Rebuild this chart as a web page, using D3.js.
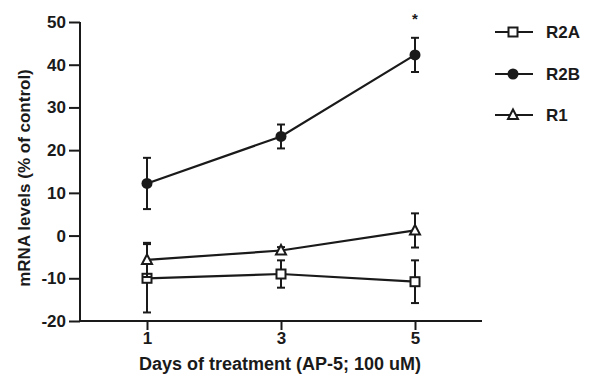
<!DOCTYPE html>
<html>
<head>
<meta charset="utf-8">
<script src="https://cdn.jsdelivr.net/npm/d3@7"></script>
<style>
html,body{margin:0;padding:0;background:#fff;}
svg{display:block;}
text{font-family:"Liberation Sans",Arial,Helvetica,sans-serif;fill:#1a1a1a;}
</style>
</head>
<body>
<svg id="chart" width="589" height="376"></svg>
<script>
const days = [1, 3, 5];
const seriesNames = ["R2A", "R2B", "R1"];
const r2aMean = [-10, -9, -10.8];
const r2aErr = [8, 3.2, 5];
const r2bMean = [12.2, 23.2, 42.3];
const r2bErr = [6, 2.8, 4];
const r1Mean = [-5.7, -3.5, 1.2];
const r1Err = [4, 0.8, 4];
const yTicks = [-20, -10, 0, 10, 20, 30, 40, 50];
const xTicks = [1, 3, 5];
const markers = ["square", "circle", "triangle"];

const series = [
  {name: seriesNames[0], mean: r2aMean, err: r2aErr, marker: markers[0]},
  {name: seriesNames[1], mean: r2bMean, err: r2bErr, marker: markers[1]},
  {name: seriesNames[2], mean: r1Mean, err: r1Err, marker: markers[2]}
];

const svg = d3.select("#chart");
const ink = "#1a1a1a";
const x = d3.scaleLinear().domain([0, 6]).range([80, 482]);
const y = d3.scaleLinear().domain([-20, 50]).range([321, 22]);
const fmt = d => String(d); // plain hyphen-minus, as in the original

// axes
const yAxis = svg.append("g").attr("transform", "translate(80,0)")
  .call(d3.axisLeft(y).tickValues(yTicks).tickSize(11).tickPadding(3).tickFormat(fmt));
const xAxis = svg.append("g").attr("transform", "translate(0,321)")
  .call(d3.axisBottom(x).tickValues(xTicks).tickSize(9).tickPadding(2).tickFormat(fmt));
[yAxis, xAxis].forEach(a => {
  a.select(".domain").attr("stroke", ink).attr("stroke-width", 2);
  a.selectAll(".tick line").attr("stroke", ink).attr("stroke-width", 2);
  a.selectAll(".tick text").attr("fill", ink).style("font-size", "17px").style("font-weight", "bold")
    .style("font-family", "'Liberation Sans', Arial, sans-serif");
});
yAxis.select(".domain").attr("d", `M0,${y(50)}V${y(-20)}`);
xAxis.select(".domain").attr("d", `M${x(0)},0H${x(6)}`);

// axis labels
svg.append("text").attr("x", 280).attr("y", 370).attr("text-anchor", "middle")
  .style("font-size", "18px").style("font-weight", "bold").text("Days of treatment (AP-5; 100 uM)");
svg.append("text").attr("transform", "translate(30,178) rotate(-90)").attr("text-anchor", "middle")
  .style("font-size", "17px").style("font-weight", "bold").text("mRNA levels (% of control)");

function drawMarker(g, type, cx, cy) {
  if (type === "square") {
    g.append("rect").attr("x", cx - 4.5).attr("y", cy - 4.5).attr("width", 9).attr("height", 9)
      .attr("fill", "#fff").attr("stroke", ink).attr("stroke-width", 2);
  } else if (type === "circle") {
    g.append("circle").attr("cx", cx).attr("cy", cy).attr("r", 5.5).attr("fill", ink);
  } else {
    g.append("path").attr("d", `M${cx},${cy - 5.5}L${cx + 5},${cy + 4}L${cx - 5},${cy + 4}Z`)
      .attr("fill", "#fff").attr("stroke", ink).attr("stroke-width", 2);
  }
}

const line = d3.line().x(d => x(d[0])).y(d => y(d[1]));
series.forEach(s => {
  const g = svg.append("g");
  const pts = days.map((d, i) => [d, s.mean[i]]);
  g.append("path").attr("d", line(pts)).attr("fill", "none").attr("stroke", ink).attr("stroke-width", 2.2);
  days.forEach((d, i) => {
    const cx = x(d), top = y(s.mean[i] + s.err[i]), bot = y(s.mean[i] - s.err[i]);
    g.append("line").attr("x1", cx).attr("x2", cx).attr("y1", top).attr("y2", bot).attr("stroke", ink).attr("stroke-width", 2);
    g.append("line").attr("x1", cx - 4).attr("x2", cx + 4).attr("y1", top).attr("y2", top).attr("stroke", ink).attr("stroke-width", 2);
    g.append("line").attr("x1", cx - 4).attr("x2", cx + 4).attr("y1", bot).attr("y2", bot).attr("stroke", ink).attr("stroke-width", 2);
  });
  days.forEach((d, i) => drawMarker(g, s.marker, x(d), y(s.mean[i])));
});

// significance star
svg.append("text").attr("x", x(5)).attr("y", y(42.3 + 4) - 14).attr("text-anchor", "middle")
  .style("font-size", "15px").style("font-weight", "bold").text("*");

// legend
const legY = [32, 74, 115];
series.forEach((s, i) => {
  const g = svg.append("g");
  g.append("line").attr("x1", 495).attr("x2", 533).attr("y1", legY[i]).attr("y2", legY[i])
    .attr("stroke", ink).attr("stroke-width", 2);
  drawMarker(g, s.marker, 513, legY[i]);
  g.append("text").attr("x", 546).attr("y", legY[i]).attr("dy", "0.36em")
    .style("font-size", "17px").style("font-weight", "bold").text(s.name);
});
</script>
</body>
</html>
